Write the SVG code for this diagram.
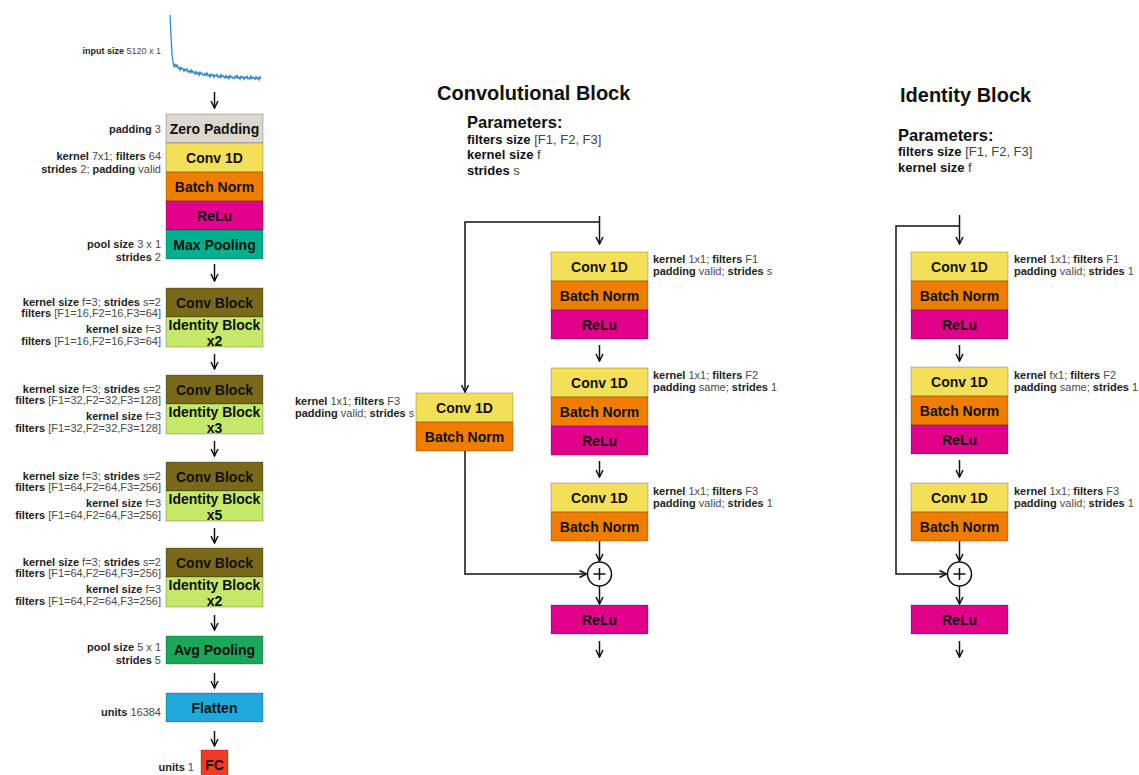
<svg xmlns="http://www.w3.org/2000/svg" width="1139" height="775" viewBox="0 0 1139 775">
<defs>
<style>
.bg{fill:#ffffff}
.box{stroke:rgba(0,0,0,0.3);stroke-width:0.8}
.zp{fill:#dcd8d0}.cv{fill:#f4e058}.bn{fill:#ef7d00}.re{fill:#e2008a}.mp{fill:#00b08c}
.cb{fill:#7a6918}.ib{fill:#c3e86a}.ap{fill:#1aa75a}.fl{fill:#1fa8dc}.fc{fill:#f03c24}
.bt{font-family:"Liberation Sans",Arial,sans-serif;font-size:14px;font-weight:bold;fill:#111;text-anchor:middle}
.lb{font-family:"Liberation Sans",Arial,sans-serif;font-size:11px;fill:#4a4a4a}
.r{text-anchor:end}
.b{font-weight:bold;fill:#1e1e1e}
.ttl{font-family:"Liberation Sans",Arial,sans-serif;font-size:20px;font-weight:bold;fill:#111}
.pt{font-family:"Liberation Sans",Arial,sans-serif;font-size:16.5px;font-weight:bold;fill:#111}
.pl{font-family:"Liberation Sans",Arial,sans-serif;font-size:13px;fill:#444}
.ln{fill:none;stroke:#111;stroke-width:1.5}
.ar{fill:none;stroke:#111;stroke-width:1.5;marker-end:url(#ah)}
</style>
<marker id="ah" viewBox="0 0 10 10" refX="9" refY="5" markerWidth="10" markerHeight="10" markerUnits="userSpaceOnUse" orient="auto"><path d="M2,1.5 L9,5 L2,8.5" fill="none" stroke="#111" stroke-width="1.5"/></marker>
</defs>
<rect class="bg" x="0" y="0" width="1139" height="775"/>

<!-- Left column -->
<g id="input">
<text class="lb r" x="161" y="54" style="font-size:9px"><tspan class="b">input size</tspan> 5120 x 1</text>
<polyline fill="none" stroke="#2c7fc0" stroke-width="1.2" points="170,15 170.5,25 171,35 171.5,45 172,55 173,62 174,66.5 175,64.5 176,66.8 177,64.8 178,68.2 179,67.4 180,70.2 181,67.3 182,69.2 183,68.4 184,71.3 185,69.2 186,70.7 187,69 188,72 189,71 190,72.8 191,69.9 192,72.6 193,71.1 194,72.4 195,74.1 196,71.5 197,73.8 198,72.6 199,75.3 200,72.1 201,74.1 202,73.1 203,75.3 204,75.7 205,73.4 206,75.2 207,72.9 208,75.9 209,74.7 210,77.1 211,74 212,75.7 213,74.7 214,77.4 215,75.1 216,76.3 217,74.4 218,77.2 219,76 220,77.6 221,74.6 222,77.2 223,75.5 224,76.7 225,78.2 226,75.5 227,77.7 228,76.3 229,78.9 230,75.6 231,77.4 232,76.4 233,78.4 234,78.7 235,76.2 236,77.9 237,75.5 238,78.3 239,77.1 240,79.3 241,76.1 242,77.8 243,76.7 244,79.4 245,77 246,78.1 247,76.2 248,78.9 249,77.7 250,79.2 251,76.1 252,78.6 253,77 254,78.1 255,79.5 256,76.8 257,78.9 258,77.5 259,80 260,76.7 261,78.5"/>
</g>
<g id="zero-padding">
<rect class="box zp" x="166" y="114" width="97" height="29"/>
<text class="bt" x="214.5" y="133.5">Zero Padding</text>
<text class="lb r" x="161" y="133"><tspan class="b">padding</tspan> 3</text>
</g>
<g id="stem-conv">
<rect class="box cv" x="166" y="143" width="97" height="29"/>
<text class="bt" x="214.5" y="162.5">Conv 1D</text>
<text class="lb r" x="161" y="160"><tspan class="b">kernel</tspan> 7x1; <tspan class="b">filters</tspan> 64</text>
<text class="lb r" x="161" y="173"><tspan class="b">strides</tspan> 2; <tspan class="b">padding</tspan> valid</text>
</g>
<g id="stem-bn">
<rect class="box bn" x="166" y="172" width="97" height="29"/>
<text class="bt" x="214.5" y="191.5">Batch Norm</text>
</g>
<g id="stem-relu">
<rect class="box re" x="166" y="201" width="97" height="29"/>
<text class="bt" x="214.5" y="220.5">ReLu</text>
</g>
<g id="max-pooling">
<rect class="box mp" x="166" y="230" width="97" height="29"/>
<text class="bt" x="214.5" y="249.5">Max Pooling</text>
<text class="lb r" x="161" y="248"><tspan class="b">pool size</tspan> 3 x 1</text>
<text class="lb r" x="161" y="261"><tspan class="b">strides</tspan> 2</text>
</g>

<g id="stage1">
<rect class="box cb" x="166" y="288" width="97" height="29"/>
<rect class="box ib" x="166" y="317" width="97" height="30"/>
<text class="bt" x="214.5" y="308">Conv Block</text>
<text class="bt" x="214.5" y="330">Identity Block</text>
<text class="bt" x="214.5" y="346">x2</text>
<text class="lb r" x="161" y="306"><tspan class="b">kernel size</tspan> f=3; <tspan class="b">strides</tspan> s=2</text>
<text class="lb r" x="161" y="317"><tspan class="b">filters</tspan> [F1=16,F2=16,F3=64]</text>
<text class="lb r" x="161" y="333"><tspan class="b">kernel size</tspan> f=3</text>
<text class="lb r" x="161" y="345"><tspan class="b">filters</tspan> [F1=16,F2=16,F3=64]</text>
</g>
<g id="stage2">
<rect class="box cb" x="166" y="375" width="97" height="29"/>
<rect class="box ib" x="166" y="404" width="97" height="30"/>
<text class="bt" x="214.5" y="395">Conv Block</text>
<text class="bt" x="214.5" y="417">Identity Block</text>
<text class="bt" x="214.5" y="433">x3</text>
<text class="lb r" x="161" y="393"><tspan class="b">kernel size</tspan> f=3; <tspan class="b">strides</tspan> s=2</text>
<text class="lb r" x="161" y="404"><tspan class="b">filters</tspan> [F1=32,F2=32,F3=128]</text>
<text class="lb r" x="161" y="420"><tspan class="b">kernel size</tspan> f=3</text>
<text class="lb r" x="161" y="432"><tspan class="b">filters</tspan> [F1=32,F2=32,F3=128]</text>
</g>
<g id="stage3">
<rect class="box cb" x="166" y="462" width="97" height="29"/>
<rect class="box ib" x="166" y="491" width="97" height="30"/>
<text class="bt" x="214.5" y="482">Conv Block</text>
<text class="bt" x="214.5" y="504">Identity Block</text>
<text class="bt" x="214.5" y="520">x5</text>
<text class="lb r" x="161" y="480"><tspan class="b">kernel size</tspan> f=3; <tspan class="b">strides</tspan> s=2</text>
<text class="lb r" x="161" y="491"><tspan class="b">filters</tspan> [F1=64,F2=64,F3=256]</text>
<text class="lb r" x="161" y="507"><tspan class="b">kernel size</tspan> f=3</text>
<text class="lb r" x="161" y="519"><tspan class="b">filters</tspan> [F1=64,F2=64,F3=256]</text>
</g>
<g id="stage4">
<rect class="box cb" x="166" y="548" width="97" height="29"/>
<rect class="box ib" x="166" y="577" width="97" height="30"/>
<text class="bt" x="214.5" y="568">Conv Block</text>
<text class="bt" x="214.5" y="590">Identity Block</text>
<text class="bt" x="214.5" y="606">x2</text>
<text class="lb r" x="161" y="566"><tspan class="b">kernel size</tspan> f=3; <tspan class="b">strides</tspan> s=2</text>
<text class="lb r" x="161" y="577"><tspan class="b">filters</tspan> [F1=64,F2=64,F3=256]</text>
<text class="lb r" x="161" y="593"><tspan class="b">kernel size</tspan> f=3</text>
<text class="lb r" x="161" y="605"><tspan class="b">filters</tspan> [F1=64,F2=64,F3=256]</text>
</g>
<g id="avg-pooling">
<rect class="box ap" x="166" y="636" width="97" height="28"/>
<text class="bt" x="214.5" y="655">Avg Pooling</text>
<text class="lb r" x="161" y="651"><tspan class="b">pool size</tspan> 5 x 1</text>
<text class="lb r" x="161" y="664"><tspan class="b">strides</tspan> 5</text>
</g>
<g id="flatten">
<rect class="box fl" x="166" y="693" width="97" height="29"/>
<text class="bt" x="214.5" y="712.5">Flatten</text>
<text class="lb r" x="161" y="716"><tspan class="b">units</tspan> 16384</text>
</g>
<g id="fc">
<rect class="box fc" x="201" y="750" width="27" height="30"/>
<text class="bt" x="214.5" y="769.5">FC</text>
<text class="lb r" x="194" y="771"><tspan class="b">units</tspan> 1</text>
</g>

<!-- Convolutional Block -->
<g id="conv-title">
<text class="ttl" x="437" y="100">Convolutional Block</text>
<text class="pt" x="467" y="128">Parameters:</text>
<text class="pl" x="467" y="144"><tspan class="b" style="fill:#111">filters size</tspan> [F1, F2, F3]</text>
<text class="pl" x="467" y="159"><tspan class="b" style="fill:#111">kernel size</tspan> f</text>
<text class="pl" x="467" y="175"><tspan class="b" style="fill:#111">strides</tspan> s</text>
</g>
<g id="cb-layer1">
<rect class="box cv" x="551" y="252" width="97" height="29"/>
<rect class="box bn" x="551" y="281" width="97" height="29"/>
<rect class="box re" x="551" y="310" width="97" height="29"/>
<text class="bt" x="599.5" y="271.5">Conv 1D</text>
<text class="bt" x="599.5" y="300.5">Batch Norm</text>
<text class="bt" x="599.5" y="329.5">ReLu</text>
<text class="lb" x="653" y="263"><tspan class="b">kernel</tspan> 1x1; <tspan class="b">filters</tspan> F1</text>
<text class="lb" x="653" y="275"><tspan class="b">padding</tspan> valid; <tspan class="b">strides</tspan> s</text>
</g>
<g id="cb-layer2">
<rect class="box cv" x="551" y="368" width="97" height="29"/>
<rect class="box bn" x="551" y="397" width="97" height="29"/>
<rect class="box re" x="551" y="426" width="97" height="29"/>
<text class="bt" x="599.5" y="387.5">Conv 1D</text>
<text class="bt" x="599.5" y="416.5">Batch Norm</text>
<text class="bt" x="599.5" y="445.5">ReLu</text>
<text class="lb" x="653" y="379"><tspan class="b">kernel</tspan> 1x1; <tspan class="b">filters</tspan> F2</text>
<text class="lb" x="653" y="391"><tspan class="b">padding</tspan> same; <tspan class="b">strides</tspan> 1</text>
</g>
<g id="cb-layer3">
<rect class="box cv" x="551" y="483" width="97" height="29"/>
<rect class="box bn" x="551" y="512" width="97" height="29"/>
<text class="bt" x="599.5" y="502.5">Conv 1D</text>
<text class="bt" x="599.5" y="531.5">Batch Norm</text>
<text class="lb" x="653" y="495"><tspan class="b">kernel</tspan> 1x1; <tspan class="b">filters</tspan> F3</text>
<text class="lb" x="653" y="507"><tspan class="b">padding</tspan> valid; <tspan class="b">strides</tspan> 1</text>
</g>
<g id="cb-shortcut">
<rect class="box cv" x="416" y="393" width="97" height="29"/>
<rect class="box bn" x="416" y="422" width="97" height="29"/>
<text class="bt" x="464.5" y="412.5">Conv 1D</text>
<text class="bt" x="464.5" y="441.5">Batch Norm</text>
<text class="lb" x="295" y="405"><tspan class="b">kernel</tspan> 1x1; <tspan class="b">filters</tspan> F3</text>
<text class="lb" x="295" y="417"><tspan class="b">padding</tspan> valid; <tspan class="b">strides</tspan> s</text>
</g>
<g id="cb-add">
<circle cx="599.5" cy="574" r="12" fill="#fff" stroke="#111" stroke-width="1.5"/>
<path class="ln" d="M593.5,574 H605.5 M599.5,568 V580"/>
</g>
<g id="cb-relu">
<rect class="box re" x="551" y="605" width="97" height="29"/>
<text class="bt" x="599.5" y="624.5">ReLu</text>
</g>

<!-- Identity Block -->
<g id="id-title">
<text class="ttl" x="900" y="102">Identity Block</text>
<text class="pt" x="898" y="141">Parameters:</text>
<text class="pl" x="898" y="156"><tspan class="b" style="fill:#111">filters size</tspan> [F1, F2, F3]</text>
<text class="pl" x="898" y="172"><tspan class="b" style="fill:#111">kernel size</tspan> f</text>
</g>
<g id="ib-layer1">
<rect class="box cv" x="911" y="252" width="97" height="29"/>
<rect class="box bn" x="911" y="281" width="97" height="29"/>
<rect class="box re" x="911" y="310" width="97" height="29"/>
<text class="bt" x="959.5" y="271.5">Conv 1D</text>
<text class="bt" x="959.5" y="300.5">Batch Norm</text>
<text class="bt" x="959.5" y="329.5">ReLu</text>
<text class="lb" x="1014" y="263"><tspan class="b">kernel</tspan> 1x1; <tspan class="b">filters</tspan> F1</text>
<text class="lb" x="1014" y="275"><tspan class="b">padding</tspan> valid; <tspan class="b">strides</tspan> 1</text>
</g>
<g id="ib-layer2">
<rect class="box cv" x="911" y="367" width="97" height="29"/>
<rect class="box bn" x="911" y="396" width="97" height="29"/>
<rect class="box re" x="911" y="425" width="97" height="29"/>
<text class="bt" x="959.5" y="386.5">Conv 1D</text>
<text class="bt" x="959.5" y="415.5">Batch Norm</text>
<text class="bt" x="959.5" y="444.5">ReLu</text>
<text class="lb" x="1014" y="379"><tspan class="b">kernel</tspan> fx1; <tspan class="b">filters</tspan> F2</text>
<text class="lb" x="1014" y="391"><tspan class="b">padding</tspan> same; <tspan class="b">strides</tspan> 1</text>
</g>
<g id="ib-layer3">
<rect class="box cv" x="911" y="483" width="97" height="29"/>
<rect class="box bn" x="911" y="512" width="97" height="29"/>
<text class="bt" x="959.5" y="502.5">Conv 1D</text>
<text class="bt" x="959.5" y="531.5">Batch Norm</text>
<text class="lb" x="1014" y="495"><tspan class="b">kernel</tspan> 1x1; <tspan class="b">filters</tspan> F3</text>
<text class="lb" x="1014" y="507"><tspan class="b">padding</tspan> valid; <tspan class="b">strides</tspan> 1</text>
</g>
<g id="ib-add">
<circle cx="959.5" cy="574" r="12" fill="#fff" stroke="#111" stroke-width="1.5"/>
<path class="ln" d="M953.5,574 H965.5 M959.5,568 V580"/>
</g>
<g id="ib-relu">
<rect class="box re" x="911" y="605" width="97" height="29"/>
<text class="bt" x="959.5" y="624.5">ReLu</text>
</g>

<g id="connectors">
<line class="ar" x1="214.5" y1="92" x2="214.5" y2="108"/>
<line class="ar" x1="214.5" y1="264" x2="214.5" y2="281"/>
<line class="ar" x1="214.5" y1="354" x2="214.5" y2="369"/>
<line class="ar" x1="214.5" y1="441" x2="214.5" y2="456"/>
<line class="ar" x1="214.5" y1="528" x2="214.5" y2="543"/>
<line class="ar" x1="214.5" y1="615" x2="214.5" y2="630"/>
<line class="ar" x1="214.5" y1="673" x2="214.5" y2="688"/>
<line class="ar" x1="214.5" y1="731" x2="214.5" y2="746"/>

<line class="ar" x1="599.5" y1="216" x2="599.5" y2="244"/>
<polyline class="ar" points="599.5,222 465,222 465,392"/>
<line class="ar" x1="599.5" y1="345" x2="599.5" y2="361"/>
<line class="ar" x1="599.5" y1="461" x2="599.5" y2="477"/>
<line class="ar" x1="599.5" y1="541" x2="599.5" y2="561"/>
<polyline class="ar" points="465,451 465,574 586.5,574"/>
<line class="ar" x1="599.5" y1="586" x2="599.5" y2="604"/>
<line class="ar" x1="599.5" y1="641" x2="599.5" y2="657"/>

<line class="ar" x1="959.5" y1="215" x2="959.5" y2="244"/>
<polyline class="ar" points="959.5,226 896,226 896,574 946.5,574"/>
<line class="ar" x1="959.5" y1="345" x2="959.5" y2="361"/>
<line class="ar" x1="959.5" y1="460" x2="959.5" y2="477"/>
<line class="ar" x1="959.5" y1="541" x2="959.5" y2="561"/>
<line class="ar" x1="959.5" y1="586" x2="959.5" y2="604"/>
<line class="ar" x1="959.5" y1="641" x2="959.5" y2="657"/>
</g>
</svg>
